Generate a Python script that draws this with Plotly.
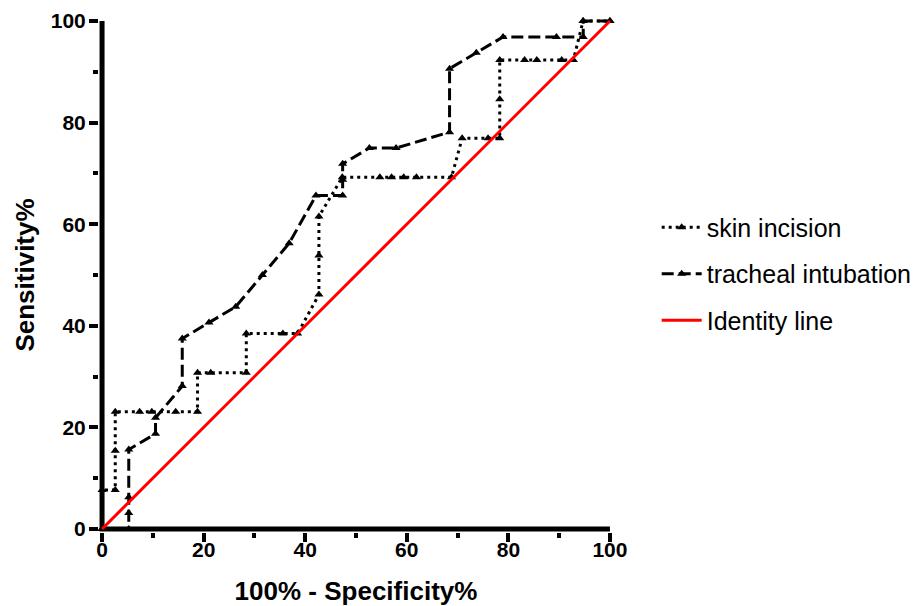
import plotly.graph_objects as go

# ROC data (x = 100% - Specificity%, y = Sensitivity%)
skin_x = [0, 0, 2.6, 2.6, 2.6, 7.4, 9.8, 14.5, 18.8, 18.8, 21.4, 28.4, 28.4, 35.6, 38.5,
          42.7, 42.7, 42.7, 47.3, 54.7, 57.0, 59.4, 61.9, 68.8, 70.9, 76.0, 78.3, 78.3,
          78.3, 83.2, 85.6, 90.5, 92.8, 94.7, 100]
skin_y = [0, 7.69, 7.69, 15.38, 23.08, 23.08, 23.08, 23.08, 23.08, 30.77, 30.77, 30.77,
          38.46, 38.46, 38.46, 46.15, 53.85, 61.54, 69.23, 69.23, 69.23, 69.23, 69.23,
          69.23, 76.92, 76.92, 76.92, 84.62, 92.31, 92.31, 92.31, 92.31, 92.31, 100, 100]

trach_x = [0, 5.26, 5.26, 5.26, 5.26, 10.53, 10.53, 15.79, 15.79, 21.05, 26.32, 31.58,
           36.84, 42.11, 47.37, 47.37, 47.37, 52.63, 57.89, 68.42, 68.42, 73.68, 78.95,
           89.47, 94.74, 94.74, 100]
trach_y = [0, 0, 3.13, 6.25, 15.63, 18.75, 21.88, 28.13, 37.5, 40.63, 43.75, 50,
           56.25, 65.63, 65.63, 68.75, 71.88, 75, 75, 78.13, 90.63, 93.75, 96.88,
           96.88, 96.88, 100, 100]

identity_x = [0, 100]
identity_y = [0, 100]

series_names = ["skin incision", "tracheal intubation", "Identity line"]
x_axis_range = [0, 100]
y_axis_range = [0, 100]
tick_vals = [0, 20, 40, 60, 80, 100]
tick_text = ["0", "20", "40", "60", "80", "100"]

FONT = "Arial, 'Liberation Sans', sans-serif"
AXIS_LW = 5
PAD = 0.6  # small padding so the thick axis frame sits on the 0 lines

fig = go.Figure()

# axis frame (L-shaped spine) built from the axis ranges
fig.add_trace(go.Scatter(
    x=[x_axis_range[0], x_axis_range[0], x_axis_range[1]],
    y=[y_axis_range[1], y_axis_range[0], y_axis_range[0]],
    mode="lines", line=dict(color="black", width=AXIS_LW),
    showlegend=False, hoverinfo="skip", cliponaxis=False))

fig.add_trace(go.Scatter(
    x=skin_x, y=skin_y, name=series_names[0], mode="lines+markers",
    line=dict(color="black", width=3, dash="3px,4px"),
    marker=dict(symbol="triangle-up", size=8, color="black"),
    cliponaxis=False, legendgroup="a"))
fig.add_trace(go.Scatter(
    x=trach_x, y=trach_y, name=series_names[1], mode="lines+markers",
    line=dict(color="black", width=3, dash="12px,5px"),
    marker=dict(symbol="triangle-up", size=8, color="black"),
    cliponaxis=False, legendgroup="b"))
fig.add_trace(go.Scatter(
    x=identity_x, y=identity_y, name=series_names[2], mode="lines",
    line=dict(color="#ff0000", width=3),
    cliponaxis=False, legendgroup="c"))

axis_common = dict(
    showgrid=False, zeroline=False, showline=False,
    ticks="outside", ticklen=9, tickwidth=4, tickcolor="black",
    tickvals=tick_vals, ticktext=tick_text,
    tickfont=dict(family=FONT, size=21, color="black", weight="bold"),
    minor=dict(dtick=10, tick0=0, ticks="outside", ticklen=5, tickwidth=4, tickcolor="black"),
)

fig.update_xaxes(**axis_common, range=[x_axis_range[0] - PAD, x_axis_range[1] + PAD],
                 ticklabelstandoff=-10,
                 title=dict(text="100% - Specificity%", standoff=21,
                            font=dict(family=FONT, size=26, color="black", weight="bold")))
fig.update_yaxes(**axis_common, range=[y_axis_range[0] - PAD, y_axis_range[1] + PAD],
                 ticklabelstandoff=-1,
                 title=dict(text="Sensitivity%", standoff=8,
                            font=dict(family=FONT, size=26, color="black", weight="bold")))

fig.update_layout(
    width=916, height=598,
    margin=dict(l=91, r=311, t=10, b=74, autoexpand=False),
    plot_bgcolor="white", paper_bgcolor="white",
    showlegend=True,
    legend=dict(x=1.085, y=0.502, xanchor="left", yanchor="middle",
                font=dict(family=FONT, size=25, color="black"),
                traceorder="grouped", tracegroupgap=11,
                itemwidth=40, bgcolor="rgba(0,0,0,0)"),
)

fig.write_html("out.html")
